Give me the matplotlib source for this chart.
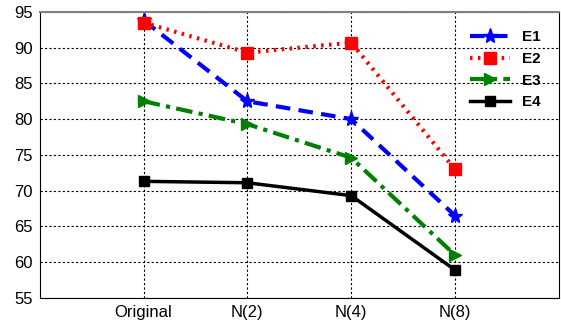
import matplotlib.pyplot as plt

categories = ["Original", "N(2)", "N(4)", "N(8)"]
e1 = [93.8, 82.5, 80.0, 66.5]
e2 = [93.5, 89.3, 90.7, 73.0]
e3 = [82.5, 79.3, 74.6, 61.0]
e4 = [71.3, 71.1, 69.3, 58.9]

plt.rcParams["font.family"] = ["Liberation Sans", "DejaVu Sans"]

fig = plt.figure(figsize=(5.61, 3.22), dpi=100)
ax = fig.add_axes([0.071, 0.075, 0.925, 0.888])

x = range(1, len(categories) + 1)

ax.plot(x, e1, color="blue", linestyle=(0, (3.5, 2)), linewidth=3,
        marker="*", markersize=11, label="E1")
ax.plot(x, e2, color="red", linestyle=(0, (0.6, 1.3)), linewidth=3,
        marker="s", markersize=8, markerfacecolor="red", label="E2")
ax.plot(x, e3, color="green", linestyle=(0, (4, 1.5, 1, 1.5)), linewidth=3,
        marker=">", markersize=9, label="E3")
ax.plot(x, e4, color="black", linestyle="-", linewidth=2.5,
        marker="s", markersize=7, label="E4")

ax.set_xlim(0, 5)
ax.set_ylim(55, 95)
ax.set_xticks(list(x))
ax.set_xticklabels(categories)
ax.set_yticks(range(55, 96, 5))
ax.tick_params(labelsize=12, length=0, pad=5)
ax.grid(True, color="black", linestyle=(0, (2, 2)), linewidth=0.8)
ax.spines["top"].set_color("gray")
ax.spines["top"].set_linewidth(1.5)

leg = ax.legend(loc="upper right", frameon=False, fontsize=11, handlelength=2.6,
                borderaxespad=0.8)
for t in leg.get_texts():
    t.set_fontweight("bold")

fig.savefig("out.png", dpi=100)
